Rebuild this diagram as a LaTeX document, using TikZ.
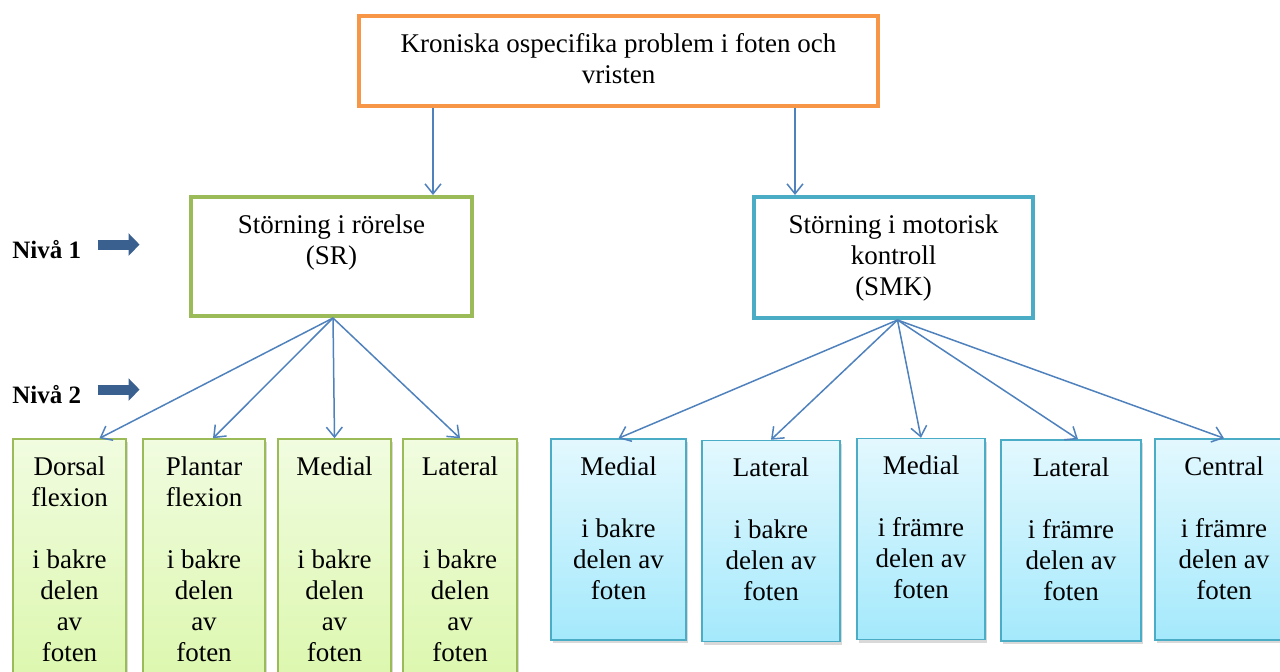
\documentclass[tikz,border=0pt]{standalone}
\usepackage{fontspec}
\setmainfont{Liberation Serif}
\usetikzlibrary{arrows.meta, calc, shadows}

\definecolor{orangeline}{HTML}{F79646}
\definecolor{greenline}{HTML}{9BBB59}
\definecolor{blueline}{HTML}{4BACC6}
\definecolor{linkblue}{HTML}{4F81BD}
\definecolor{levelblue}{HTML}{3A6090}
\definecolor{greentop}{HTML}{F1FCE0}
\definecolor{greenbot}{HTML}{DBF7AC}
\definecolor{bluetop}{HTML}{E3F8FE}
\definecolor{bluebot}{HTML}{A4E9FC}

% box text: fixed size, set from the top down
\newcommand{\boxtext}[3]{\parbox[c][#2][t]{#1}{\centering\vspace*{7.25pt}\strut#3}}

\tikzstyle{mainbox} = [rectangle, draw=orangeline, line width=2pt, fill=white, inner sep=0pt]
\tikzstyle{srbox} = [rectangle, draw=greenline, line width=2pt, fill=white, inner sep=0pt]
\tikzstyle{smkbox} = [rectangle, draw=blueline, line width=2pt, fill=white, inner sep=0pt]
\tikzstyle{srleaf} = [rectangle, draw=greenline, line width=0.75pt, top color=greentop, bottom color=greenbot, inner sep=0pt, drop shadow={shadow xshift=1.2pt, shadow yshift=-1.5pt, opacity=0.3}]
\tikzstyle{smkleaf} = [rectangle, draw=blueline, line width=0.75pt, top color=bluetop, bottom color=bluebot, inner sep=0pt, drop shadow={shadow xshift=1.2pt, shadow yshift=-1.5pt, opacity=0.3}]
\tikzstyle{level} = [inner sep=0pt, anchor=base west, font=\bfseries\fontsize{12.5}{15}\selectfont]
\tikzstyle{arrow} = [-{Straight Barb[length=5pt, width=8pt]}, draw=linkblue, line width=0.75pt]
\tikzstyle{levelarrow} = [-{Triangle[length=5.5pt, width=11pt]}, draw=levelblue, line width=5pt]

\begin{document}
\begin{tikzpicture}[x=0.5pt, y=-0.5pt, font=\fontsize{13.5}{15.5}\selectfont]
\useasboundingbox (0,0) rectangle (1280,671);
\clip (0,0) rectangle (1280,671);

%huvudruta och nivå 1
\node (top) [mainbox] at (618.5,61) {\boxtext{259.5pt}{45pt}{Kroniska ospecifika problem i foten och\\vristen}};
\node (sr) [srbox] at (331.5,256.5) {\boxtext{140.5pt}{59.5pt}{Störning i rörelse\\(SR)}};
\node (smk) [smkbox] at (893.5,257.5) {\boxtext{139.5pt}{60.5pt}{Störning i motorisk\\kontroll\\(SMK)}};

%nivå 2, rörelse
\node (dorsal) [srleaf] at (69.5,564.5) {\boxtext{56.5pt}{125.5pt}{Dorsal\\flexion\\[15.5pt]i bakre\\delen\\av\\foten}};
\node (plantar) [srleaf] at (204,564.5) {\boxtext{61pt}{125.5pt}{Plantar\\flexion\\[15.5pt]i bakre\\delen\\av\\foten}};
\node (sr-medial) [srleaf] at (334.5,564.5) {\boxtext{56.5pt}{125.5pt}{Medial\\[31pt]i bakre\\delen\\av\\foten}};
\node (sr-lateral) [srleaf] at (460,564.5) {\boxtext{57pt}{125.5pt}{Lateral\\[31pt]i bakre\\delen\\av\\foten}};

%nivå 2, motorisk kontroll
\node (bak-medial) [smkleaf] at (618.5,539.5) {\boxtext{67.5pt}{100.5pt}{Medial\\[15.5pt]i bakre\\delen av\\foten}};
\node (bak-lateral) [smkleaf] at (771,541) {\boxtext{69pt}{100.5pt}{Lateral\\[15.5pt]i bakre\\delen av\\foten}};
\node (fram-medial) [smkleaf] at (921,539) {\boxtext{64pt}{100.5pt}{Medial\\[15.5pt]i främre\\delen av\\foten}};
\node (fram-lateral) [smkleaf] at (1071,540.5) {\boxtext{70pt}{100.5pt}{Lateral\\[15.5pt]i främre\\delen av\\foten}};
\node (fram-central) [smkleaf] at (1224,539.5) {\boxtext{69pt}{100.5pt}{Central\\[15.5pt]i främre\\delen av\\foten}};

%nivåer
\node (niva1) [level] at (12,258) {Nivå 1};
\node (niva2) [level] at (12,403) {Nivå 2};
\draw [levelarrow] ([xshift=8pt, yshift=2.25pt]niva1.east) -- ([xshift=29pt, yshift=2.25pt]niva1.east);
\draw [levelarrow] ([xshift=8pt, yshift=2.25pt]niva2.east) -- ([xshift=29pt, yshift=2.25pt]niva2.east);

%pilar
\coordinate (sr-in) at ($(top.south west)+(76,0)$);
\coordinate (smk-in) at ($(top.south east)+(-85,0)$);
\draw [arrow](sr-in) -- (sr-in |- sr.north);
\draw [arrow](smk-in) -- (smk-in |- smk.north);

\draw [arrow]([xshift=0.75pt]sr.south) -- ([xshift=15pt]dorsal.north);
\draw [arrow]([xshift=0.75pt]sr.south) -- ([xshift=4.5pt]plantar.north);
\draw [arrow]([xshift=0.75pt]sr.south) -- (sr-medial.north);
\draw [arrow]([xshift=0.75pt]sr.south) -- (sr-lateral.north);

\draw [arrow]([xshift=2pt]smk.south) -- (bak-medial.north);
\draw [arrow]([xshift=2pt]smk.south) -- (bak-lateral.north);
\draw [arrow]([xshift=2pt]smk.south) -- (fram-medial.north);
\draw [arrow]([xshift=2pt]smk.south) -- ([xshift=3.5pt]fram-lateral.north);
\draw [arrow]([xshift=2pt]smk.south) -- (fram-central.north);
\end{tikzpicture}
\end{document}
